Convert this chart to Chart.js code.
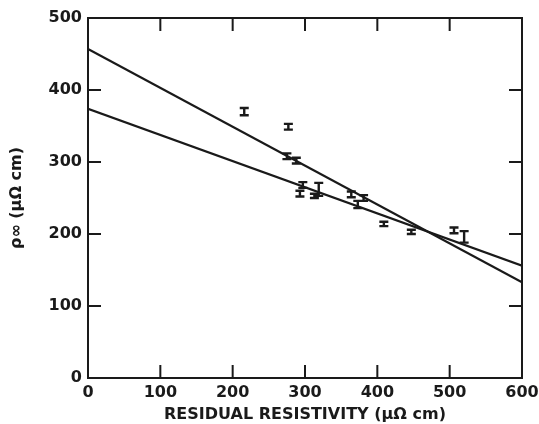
<!DOCTYPE html>
<html>
<head>
<meta charset="utf-8">
<script src="https://cdn.jsdelivr.net/npm/chart.js@4"></script>
<style>
  body { margin: 0; background: #fff; }
  .wrap { width: 539px; height: 424px; }
</style>
</head>
<body>
<div class="wrap"><canvas id="chart"></canvas></div>
<script>
// measured points (residual resistivity, rho_inf) with half error bar
const resX = [216, 277, 275, 288, 297, 293, 313, 319, 364, 373, 381, 409, 447, 506, 520];
const rhoY = [370, 349, 308, 302, 268, 256, 253, 262, 255, 241, 250, 214, 203, 205, 196];
const rhoErr = [5, 4, 4, 4, 4, 4, 3, 9, 4, 5, 4, 3, 3, 4, 8];

// two fitted lines, end points at x = 0 and x = 600
const lineX = [0, 600];
const upperLine = [457, 133];
const lowerLine = [374, 156];

const xTicks = [0, 100, 200, 300, 400, 500, 600];
const yTicks = [0, 100, 200, 300, 400, 500];

const ink = "#1a1a1a";
const fontFamily = "'DejaVu Sans', sans-serif";

// frame, inward ticks and error bars
const framePlugin = {
  id: "frame",
  afterDatasetsDraw(chart) {
    const { ctx, chartArea: a, scales } = chart;
    const xs = scales.x, ys = scales.y;
    ctx.save();
    ctx.strokeStyle = ink;
    ctx.lineWidth = 2;
    ctx.strokeRect(a.left, a.top, a.right - a.left, a.bottom - a.top);

    const len = 13;
    ctx.beginPath();
    xTicks.slice(1, -1).forEach((v) => {
      const px = xs.getPixelForValue(v);
      ctx.moveTo(px, a.bottom); ctx.lineTo(px, a.bottom - len);
      ctx.moveTo(px, a.top); ctx.lineTo(px, a.top + len);
    });
    yTicks.slice(1, -1).forEach((v) => {
      const py = ys.getPixelForValue(v);
      ctx.moveTo(a.left, py); ctx.lineTo(a.left + len, py);
      ctx.moveTo(a.right, py); ctx.lineTo(a.right - len, py);
    });
    ctx.stroke();

    // error bars (I shapes)
    ctx.lineWidth = 2.4;
    ctx.beginPath();
    resX.forEach((x, i) => {
      const px = xs.getPixelForValue(x);
      const top = ys.getPixelForValue(rhoY[i] + rhoErr[i]);
      const bot = ys.getPixelForValue(rhoY[i] - rhoErr[i]);
      ctx.moveTo(px, top); ctx.lineTo(px, bot);
      ctx.moveTo(px - 4.5, top); ctx.lineTo(px + 4.5, top);
      ctx.moveTo(px - 4.5, bot); ctx.lineTo(px + 4.5, bot);
    });
    ctx.stroke();
    ctx.restore();
  }
};

new Chart(document.getElementById("chart"), {
  type: "scatter",
  data: {
    datasets: [
      {
        label: "data",
        data: resX.map((x, i) => ({ x: x, y: rhoY[i] })),
        pointRadius: 0,
      },
      {
        label: "fit 1",
        type: "line",
        data: lineX.map((x, i) => ({ x: x, y: upperLine[i] })),
        borderColor: ink,
        borderWidth: 2.2,
        pointRadius: 0,
      },
      {
        label: "fit 2",
        type: "line",
        data: lineX.map((x, i) => ({ x: x, y: lowerLine[i] })),
        borderColor: ink,
        borderWidth: 2.2,
        pointRadius: 0,
      },
    ],
  },
  options: {
    responsive: true,
    maintainAspectRatio: false,
    animation: false,
    layout: { padding: { top: 18, right: 17, left: 0, bottom: 0 } },
    plugins: {
      legend: { display: false },
      tooltip: { enabled: false },
    },
    scales: {
      x: {
        type: "linear",
        min: 0,
        max: 600,
        afterBuildTicks: (s) => { s.ticks = xTicks.map((v) => ({ value: v })); },
        afterFit: (s) => { s.height = 46; s.paddingLeft = 0; s.paddingRight = 0; },
        grid: { display: false, drawTicks: false },
        border: { display: false },
        ticks: { color: ink, padding: 5, font: { family: fontFamily, size: 16, weight: "bold" } },
        title: {
          display: true,
          text: "RESIDUAL RESISTIVITY (μΩ cm)",
          color: ink,
          font: { family: fontFamily, size: 16, weight: "bold" },
          padding: { top: 0, bottom: 0 },
        },
      },
      y: {
        type: "linear",
        min: 0,
        max: 500,
        afterBuildTicks: (s) => { s.ticks = yTicks.map((v) => ({ value: v })); },
        afterFit: (s) => { s.width = 88; },
        grid: { display: false, drawTicks: false },
        border: { display: false },
        ticks: { color: ink, padding: 6, font: { family: fontFamily, size: 16, weight: "bold" } },
        title: {
          display: true,
          text: "ρ∞ (μΩ cm)",
          color: ink,
          font: { family: fontFamily, size: 16, weight: "bold" },
          padding: { top: 7, bottom: 0 },
        },
      },
    },
  },
  plugins: [framePlugin],
});
</script>
</body>
</html>
